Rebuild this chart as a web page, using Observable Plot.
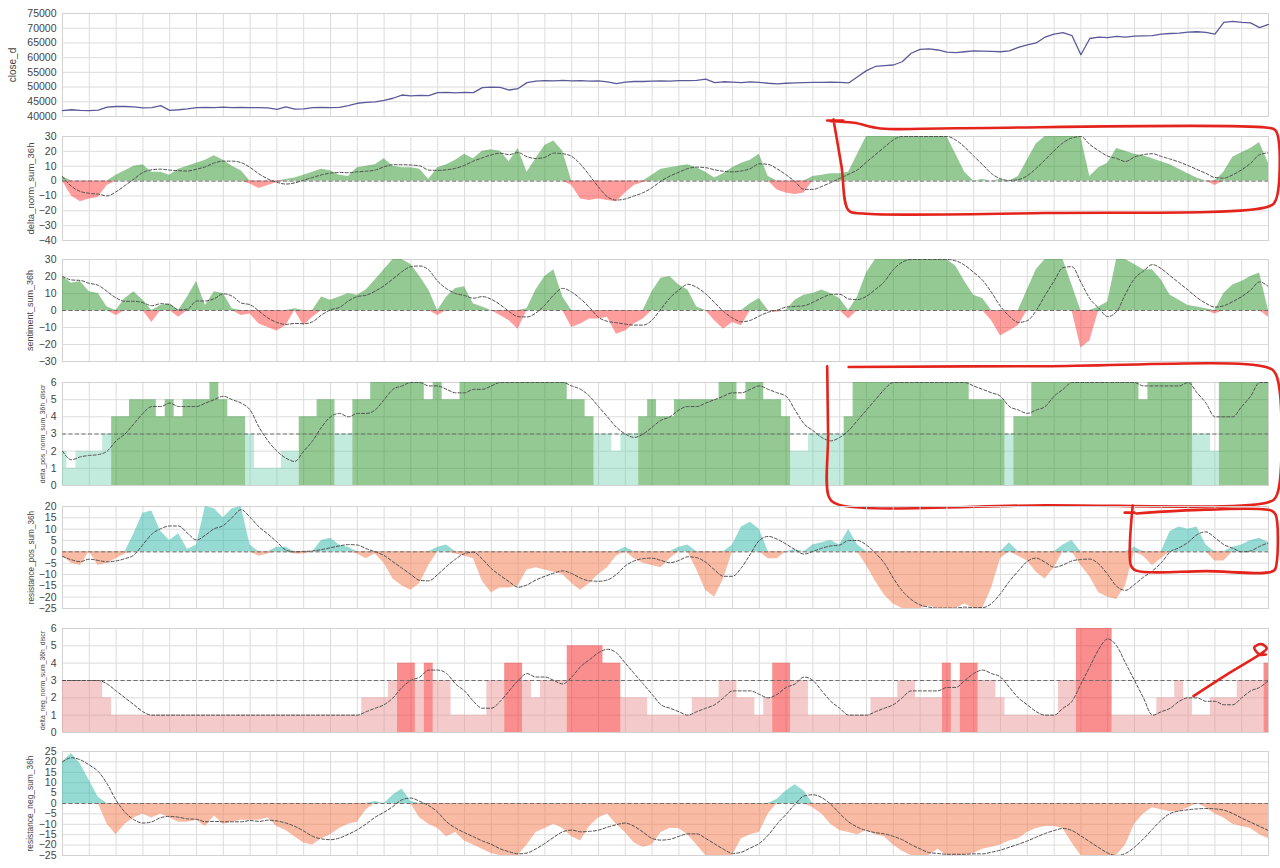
<!DOCTYPE html>
<html><head><meta charset="utf-8">
<script src="https://cdn.jsdelivr.net/npm/d3@7"></script>
<script src="https://cdn.jsdelivr.net/npm/@observablehq/plot@0.6"></script>
<style>
body{margin:0;background:#fff;font-family:"Liberation Sans",Arial,sans-serif}
#chart svg{display:block;overflow:visible}
</style>
</head><body><div id="chart"></div>
<script>
// ---- data (one sample per ~9 px; 3 samples per vertical grid interval) ----
const closeD = [42000,42300,42100,42000,42200,43200,43400,43400,43300,42900,
43000,43700,42100,42300,42600,43000,43100,43000,43200,43000,
43100,43000,43000,42900,42400,43300,42500,42600,43000,43100,
43000,43100,43700,44500,44800,45000,45500,46200,47300,47000,
47200,47100,48100,48200,48000,48200,48100,49800,50000,49900,
49000,49500,51500,52000,52200,52100,52300,52100,52200,52000,
52100,51800,51200,51700,51900,51900,52000,52100,52000,52200,
52200,52300,52700,51500,51800,51700,51500,51800,51600,51300,
51100,51300,51400,51500,51600,51600,51700,51600,51400,53500,
55600,57000,57300,57500,58600,61500,62800,63000,62600,61900,
61700,62000,62300,62200,62100,62000,62300,63500,64300,65000,
67000,68000,68500,67500,61000,66500,67000,66800,67200,67000,
67300,67400,67500,68000,68200,68300,68700,68800,68600,68000,
72000,72300,72000,71800,70200,71300];

const deltaNorm = [3,-10,-14,-12,-11,-3,4,7,10,11,
6,6,4,8,10,12,14,17,14,10,
7,-2,-5,-3,-1,1,2,4,6,8,
7,4,3,9,10,11,15,10,9,9,
8,1,9,11,14,18,15,20,21,20,
13,22,6,15,24,27,20,-3,-12,-13,
-12,-13,-14,-8,-3,-1,4,8,9,10,
11,9,6,2,5,9,12,14,18,3,
-6,-8,-9,-8,3,4,5,5,6,18,
30,30,30,30,30,30,30,30,30,30,
18,6,0,1,0,1,0,3,14,25,
30,30,30,30,30,3,9,12,22,20,
18,17,15,13,11,8,5,2,0,-3,
6,16,19,22,26,12];

const sentiment = [20,16,17,11,10,2,-3,7,11,6,
-7,3,4,-4,8,17,3,11,10,1,
-3,-2,-8,-10,-12,-9,1,-9,-4,8,
6,8,10,9,12,18,24,30,30,27,
20,12,-3,8,13,14,4,2,0,-3,
-6,-11,1,12,20,24,8,-10,-8,-5,
-5,-4,-14,-12,-8,-5,11,19,20,15,
12,2,0,-6,-11,-7,-9,4,7,0,
-1,0,6,9,10,12,10,7,-5,8,
22,30,30,30,30,30,30,30,30,30,
26,17,9,7,-6,-15,-12,-9,12,24,
30,30,30,15,-22,-18,2,5,30,30,
27,24,24,18,9,6,3,2,1,-2,
10,15,17,20,22,-4];

const posDiscr = [2,1,2,2,2,3,4,4,5,5,
5,4,5,4,5,5,5,6,5,4,
4,3,1,1,1,2,2,4,4,5,
5,3,3,5,5,6,6,6,6,6,
6,5,6,5,5,6,6,6,6,6,
6,6,6,6,6,6,6,5,5,4,
3,3,2,3,3,4,5,4,4,5,
5,5,5,5,6,6,5,6,6,5,
5,4,2,2,3,3,3,3,4,6,
6,6,6,6,6,6,6,6,6,6,
6,6,5,5,5,5,3,4,4,6,
6,6,6,6,6,6,6,6,6,6,
6,5,6,6,6,6,6,3,3,2,
6,6,6,6,6,6];

const resPos = [-2,-5,-6,0,-6,-5,-3,-1,8,17,
18,9,5,8,1,3,20,19,15,19,
20,3,-2,-1,2,2,-1,-1,0,5,
6,3,2,-1,-3,-1,-5,-12,-15,-17,
-14,-6,2,3,-1,-2,-3,-13,-18,-16,
-16,-15,-8,-7,-8,-9,-10,-14,-17,-14,
-10,-7,-2,2,-3,-5,-6,-7,-3,2,
3,-8,-17,-20,-12,3,11,13,10,-3,
-3,0,1,0,3,4,5,3,10,3,
-6,-13,-19,-23,-25,-25,-25,-24,-25,-25,
-25,-23,-25,-25,-16,-3,4,-2,-4,-9,
-12,-7,3,5,-6,-11,-18,-20,-21,-15,
2,-2,-6,-3,9,11,10,11,3,-4,
-4,2,3,5,6,4];

const negDiscr = [3,3,3,3,3,2,1,1,1,1,
1,1,1,1,1,1,1,1,1,1,
1,1,1,1,1,1,1,1,1,1,
1,1,1,1,2,2,2,3,4,4,
3,4,3,3,1,1,1,1,3,3,
4,4,3,2,3,3,3,5,5,5,
5,4,4,2,2,2,1,1,1,1,
1,2,2,2,3,3,2,2,1,2,
4,4,3,3,1,1,1,1,1,1,
1,2,2,2,3,3,2,2,2,4,
3,4,4,3,3,2,1,1,1,1,
1,1,3,3,6,6,6,6,1,1,
1,1,1,2,2,3,2,1,1,2,
2,2,3,3,3,4];

const resNeg = [20,24,19,11,3,-10,-15,-10,-7,-5,
-7,-5,-7,-9,-9,-8,-11,-6,-10,-9,
-8,-8,-8,-7,-11,-13,-16,-19,-20,-17,
-15,-12,-10,-9,-3,1,0,4,7,1,
-7,-10,-12,-16,-14,-18,-20,-22,-24,-25,
-25,-25,-20,-14,-12,-10,-12,-16,-18,-11,
-7,-5,-10,-14,-19,-21,-20,-14,-12,-12,
-15,-20,-25,-25,-25,-25,-17,-15,-14,-5,
2,6,9,6,-2,-5,-10,-13,-14,-15,
-13,-15,-16,-20,-23,-25,-25,-25,-22,-25,
-25,-25,-24,-22,-21,-20,-18,-17,-14,-12,
-11,-11,-12,-19,-25,-25,-25,-25,-25,-20,
-10,-5,-2,-3,-4,-4,-2,0,-2,-5,
-7,-10,-11,-12,-15,-17];

// tick values
const ticksClose = [40000,45000,50000,55000,60000,65000,70000,75000];
const ticksDelta = [-40,-30,-20,-10,0,10,20,30];
const ticksSent = [-30,-20,-10,0,10,20,30];
const ticksDiscr = [0,1,2,3,4,5,6];
const ticksResPos = [-25,-20,-15,-10,-5,0,5,10,15,20];
const ticksResNeg = [-25,-20,-15,-10,-5,0,5,10,15,20,25];

// hand-drawn red annotations (in each panel's data units)
const annotDelta = [
  {g:"a",x:85.6,y:40.8},{g:"a",x:87.4,y:40.8},
  {g:"b",x:86.3,y:41.5},{g:"b",x:87.2,y:10},{g:"b",x:88.0,y:-19.8},{g:"b",x:89.6,y:-21.8},{g:"b",x:110,y:-21.5},{g:"b",x:135.0,y:-17.1},{g:"b",x:135.8,y:-13},{g:"b",x:135.8,y:34},{g:"b",x:134.7,y:36},{g:"b",x:100,y:35.6},{g:"b",x:91.6,y:35.4},{g:"b",x:88.6,y:39.2},{g:"b",x:86.0,y:40.3}
];
const annotPos = [
  {g:"a",x:85.6,y:6.95},{g:"a",x:85.7,y:3},{g:"a",x:85.8,y:-0.67},{g:"a",x:86.8,y:-1.1},{g:"a",x:110,y:-1.15},{g:"a",x:135.05,y:-0.96},{g:"a",x:135.9,y:-0.6},{g:"a",x:135.8,y:6.5},{g:"a",x:134.7,y:6.9},{g:"a",x:110,y:6.95},{g:"a",x:88.0,y:6.9}
];
const annotResPos = [
  {g:"a",x:118.9,y:17.3},{g:"a",x:120.0,y:17.3},
  {g:"b",x:119.8,y:20.4},{g:"b",x:119.6,y:-6.0},{g:"b",x:120.2,y:-8.3},{g:"b",x:128,y:-8.5},{g:"b",x:135.6,y:-8.3},{g:"b",x:135.9,y:-5.2},{g:"b",x:135.8,y:16.4},{g:"b",x:135.3,y:18.2},{g:"b",x:128,y:18.6},{g:"b",x:120.2,y:16.9}
];
const annotNeg = [
  {g:"a",x:126.6,y:2.1},{g:"a",x:130.5,y:3.4},{g:"a",x:134.3,y:4.6},{g:"a",x:134.8,y:4.85},{g:"a",x:134.2,y:5.1},{g:"a",x:133.4,y:4.9},{g:"a",x:134.0,y:4.5},{g:"a",x:134.7,y:4.5}
];

// ---- drawing ----
const N = closeD.length;
const xTicks = d3.range(0, N, 3);
const GRID = "#dcdcdc";
const RED = "#e3231c";
const fmt = d => d < 0 ? "\u2212" + Math.abs(d) : String(d);

function signFills(rows, pos, neg, op) {
  return [
    Plot.areaY(rows, {x: "i", y: d => Math.max(0, d.v), curve: "linear", fill: pos, fillOpacity: op}),
    Plot.areaY(rows, {x: "i", y: d => Math.min(0, d.v), curve: "linear", fill: neg, fillOpacity: op})
  ];
}
function threshFills(rows, hi, lo, opHi, opLo) {
  return [
    Plot.areaY(rows, {x: "i", y: d => d.v <= 3 ? d.v : 0, curve: "step", fill: lo, fillOpacity: opLo}),
    Plot.areaY(rows, {x: "i", y: d => d.v > 3 ? d.v : 0, curve: "step", fill: hi, fillOpacity: opHi})
  ];
}

function panel(cfg) {
  const rows = cfg.values.map((v, i) => ({i, v}));
  const marks = [
    Plot.ruleY(cfg.ticks, {stroke: GRID, strokeWidth: 1}),
    Plot.ruleX(xTicks, {stroke: GRID, strokeWidth: 1}),
    Plot.frame({stroke: "#d2d2d2"})
  ];
  if (cfg.kind === "line") {
    marks.push(Plot.lineY(rows, {x: "i", y: "v", stroke: "#5a5a98", strokeWidth: 1.3}));
  } else {
    marks.push(...cfg.fills(rows));
    marks.push(Plot.ruleY([cfg.ref], {stroke: "#6e6e6e", strokeWidth: 1, strokeDasharray: "4,2.5"}));
    marks.push(Plot.lineY(rows, Plot.windowY({k: 5, anchor: "end", reduce: "mean"}, {x: "i", y: "v", stroke: "#505050", strokeWidth: 1, strokeDasharray: "3,2", curve: "monotone-x", clip: true})));
  }
  marks.push(Plot.axisY(cfg.ticks, {tickSize: 0, tickPadding: 6, tickFormat: fmt, fontSize: 10.5, fill: "#444", label: null}));
  marks.push(Plot.text([cfg.label], {text: d => d, frameAnchor: "left", rotate: -90, dx: cfg.labelDx, fontSize: cfg.labelSize, fill: "#444", textAnchor: "middle"}));
  if (cfg.annot) {
    marks.push(Plot.line(cfg.annot, {x: "x", y: "y", z: "g", stroke: RED, strokeWidth: 2.6, curve: "catmull-rom", strokeLinecap: "round", strokeLinejoin: "round"}));
  }
  return Plot.plot({
    width: 1280,
    height: cfg.height,
    marginLeft: 62,
    marginRight: 12,
    marginTop: cfg.mt,
    marginBottom: cfg.mb,
    x: {domain: [0, N - 1], axis: null},
    y: {domain: cfg.domain, axis: null},
    style: {background: "transparent", overflow: "visible", fontFamily: "Liberation Sans, Arial, sans-serif", color: "#444"},
    marks
  });
}

const chart = document.getElementById("chart");
const panels = [
  {values: closeD, kind: "line", label: "close_d", labelSize: 10, labelDx: -50, ticks: ticksClose, domain: [40000, 75000], height: 126, mt: 13, mb: 10},
  {values: deltaNorm, label: "delta_norm_sum_36h", labelSize: 9.5, labelDx: -32, ticks: ticksDelta, domain: [-40, 30], height: 124, mt: 10, mb: 10, ref: 0,
   fills: r => signFills(r, "#1f8f1f", "#ff3030", 0.48), annot: annotDelta},
  {values: sentiment, label: "sentiment_sum_36h", labelSize: 9, labelDx: -32, ticks: ticksSent, domain: [-30, 30], height: 121, mt: 9, mb: 10, ref: 0,
   fills: r => signFills(r, "#1f8f1f", "#ff3030", 0.48)},
  {values: posDiscr, label: "delta_pos_norm_sum_36h_discr", labelSize: 6.8, labelDx: -20, ticks: ticksDiscr, domain: [0, 6], height: 124, mt: 11, mb: 10, ref: 3,
   fills: r => threshFills(r, "#1f8f1f", "#66ccaa", 0.48, 0.4), annot: annotPos},
  {values: resPos, label: "resistance_pos_sum_36h", labelSize: 8.2, labelDx: -31, ticks: ticksResPos, domain: [-25, 20], height: 123, mt: 11, mb: 10, ref: 0,
   fills: r => signFills(r, "#2cb5a8", "#f4774a", 0.5), annot: annotResPos},
  {values: negDiscr, label: "delta_neg_norm_sum_36h_discr", labelSize: 6.8, labelDx: -20, ticks: ticksDiscr, domain: [0, 6], height: 123, mt: 10, mb: 9, ref: 3,
   fills: r => threshFills(r, "#f51e1e", "#e88a8a", 0.5, 0.45), annot: annotNeg},
  {values: resNeg, label: "resistance_neg_sum_36h", labelSize: 8.4, labelDx: -32, ticks: ticksResNeg, domain: [-25, 25], height: 127, mt: 10, mb: 13, ref: 0,
   fills: r => signFills(r, "#2cb5a8", "#f4774a", 0.5)}
];
for (const p of panels) chart.appendChild(panel(p));
</script>
</body></html>
